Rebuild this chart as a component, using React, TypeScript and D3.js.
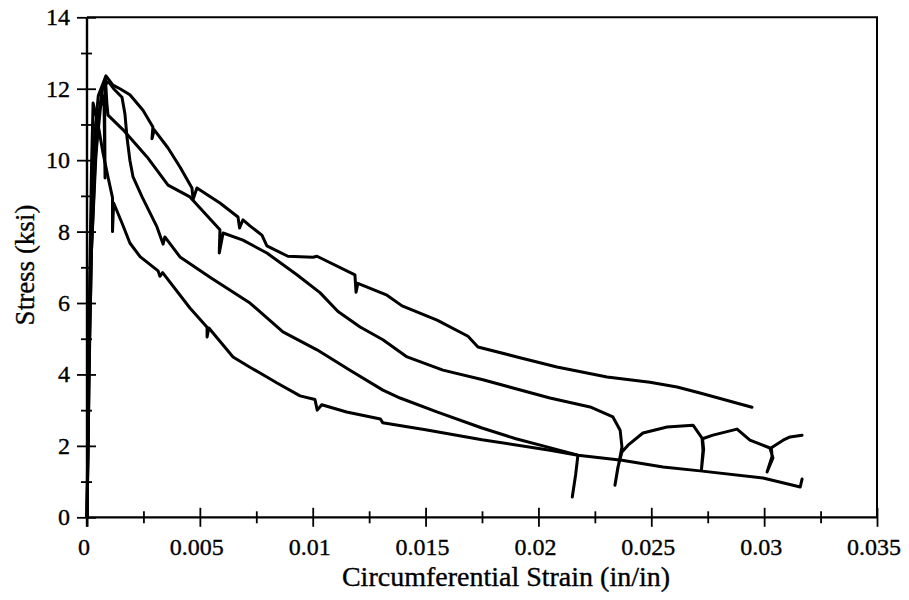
import React, { useEffect, useRef } from 'react';
import * as d3 from 'd3';

type Pt = [number, number];

// strain (in/in), stress (ksi)
const curveA: Pt[] = [
  [0, 0], [0.00004, 2.5], [0.0001, 5.5], [0.0002, 8.5], [0.00035, 10.8], [0.0005, 11.8], [0.00084, 12.36],
  [0.00115, 12.1], [0.00146, 12.0], [0.0019, 11.83], [0.00248, 11.4], [0.00292, 10.93], [0.00288, 10.6],
  [0.00298, 10.85], [0.00359, 10.34], [0.00412, 9.81], [0.00465, 9.22], [0.0047, 8.9], [0.00487, 9.22],
  [0.00589, 8.8], [0.00669, 8.41], [0.00676, 8.1], [0.00691, 8.33], [0.00722, 8.16], [0.00775, 7.9],
  [0.00797, 7.6], [0.0089, 7.31], [0.01001, 7.28], [0.01019, 7.31], [0.01187, 6.79], [0.01192, 6.3],
  [0.012, 6.55], [0.01329, 6.22], [0.01396, 5.92], [0.01551, 5.52], [0.01688, 5.07], [0.01732, 4.77],
  [0.01905, 4.49], [0.02082, 4.21], [0.02304, 3.93], [0.02494, 3.78], [0.02614, 3.65], [0.02716, 3.48],
  [0.02946, 3.08],
];

const curveB: Pt[] = [
  [0, 0], [0.00005, 2], [0.0001, 4.5], [0.0002, 7.5], [0.0004, 10.2], [0.0006, 11.5], [0.00075, 11.8],
  [0.0008, 9.5], [0.00078, 11.6], [0.00082, 12.25], [0.00088, 11.6], [0.00093, 11.26], [0.0016, 10.85],
  [0.00266, 10.09], [0.00359, 9.3], [0.00456, 8.97], [0.00589, 8.05], [0.00586, 7.4], [0.00603, 7.96],
  [0.00691, 7.76], [0.00797, 7.4], [0.0093, 6.79], [0.01032, 6.29], [0.01112, 5.76], [0.0121, 5.33],
  [0.01311, 4.97], [0.01418, 4.49], [0.01577, 4.12], [0.01754, 3.85], [0.02051, 3.34], [0.02229, 3.09],
  [0.0233, 2.81], [0.02362, 2.44], [0.0237, 1.97], [0.02353, 1.41], [0.02339, 0.9], [0.02352, 1.4],
  [0.0237, 1.83], [0.02397, 2.02], [0.02463, 2.36], [0.0257, 2.53], [0.02685, 2.58], [0.02725, 2.22],
  [0.02729, 1.88], [0.02722, 1.32], [0.02732, 1.9], [0.02727, 2.2], [0.02773, 2.3], [0.0288, 2.47],
  [0.02937, 2.16], [0.03026, 1.94], [0.03039, 1.66], [0.03013, 1.27], [0.03035, 1.7], [0.03032, 1.95],
  [0.03084, 2.16], [0.03115, 2.25], [0.03168, 2.3],
];

const curveC: Pt[] = [
  [0, 0], [0.00006, 2.5], [0.00012, 5], [0.0002, 7.5], [0.00035, 9.8], [0.0005, 11.2], [0.0007, 12.05],
  [0.00095, 12.2], [0.00118, 12.0], [0.00155, 11.76], [0.00168, 11.3], [0.00177, 10.65], [0.0019, 10.0],
  [0.00204, 9.53], [0.00244, 8.97], [0.0031, 8.13], [0.00337, 7.65], [0.00345, 7.85], [0.00412, 7.29],
  [0.0055, 6.7], [0.00722, 6.0], [0.00868, 5.19], [0.01019, 4.69], [0.01165, 4.12], [0.01311, 3.56],
  [0.01387, 3.34], [0.0155, 2.95], [0.0175, 2.5], [0.019, 2.2], [0.0205, 1.95], [0.02175, 1.74],
  [0.02165, 1.2], [0.0215, 0.57],
];

const curveD: Pt[] = [
  [0, 0], [0.00004, 2], [0.00008, 4.5], [0.00013, 7], [0.0002, 9.8], [0.00027, 11.6], [0.00049, 11.0],
  [0.00071, 10.2], [0.00093, 9.53], [0.00113, 8.95], [0.00113, 8.0], [0.00118, 8.8], [0.00155, 8.24],
  [0.0019, 7.68], [0.00235, 7.3], [0.00315, 6.9], [0.00323, 6.75], [0.00335, 6.85], [0.00456, 5.86],
  [0.00532, 5.32], [0.00532, 5.05], [0.0054, 5.3], [0.00647, 4.49], [0.00722, 4.2], [0.00797, 3.93],
  [0.00842, 3.76], [0.00944, 3.4], [0.0101, 3.3], [0.0102, 3.0], [0.0104, 3.15], [0.0115, 2.95],
  [0.013, 2.75], [0.0131, 2.65], [0.015, 2.45], [0.0175, 2.17], [0.02051, 1.88], [0.02175, 1.74],
  [0.0237, 1.6], [0.02552, 1.41], [0.02716, 1.3], [0.02995, 1.1], [0.0316, 0.85], [0.03168, 1.07],
];

const curves = [curveA, curveB, curveC, curveD];

const xMajorTicks = [0, 0.005, 0.01, 0.015, 0.02, 0.025, 0.03, 0.035];
const xTickLabels = ['0', '0.005', '0.01', '0.015', '0.02', '0.025', '0.03', '0.035'];
const xMinorTicks = [0.0025, 0.0075, 0.0125, 0.0175, 0.0225, 0.0275, 0.0325];
const yMajorTicks = [0, 2, 4, 6, 8, 10, 12, 14];
const yMinorTicks = [1, 3, 5, 7, 9, 11, 13];

const xTitle = 'Circumferential Strain (in/in)';
const yTitle = 'Stress (ksi)';

const W = 909;
const H = 600;
const FONT = 'Liberation Serif';

const x = d3.scaleLinear().domain([0, 0.035]).range([87, 877]);
const y = d3.scaleLinear().domain([0, 14]).range([517.3, 17.3]);

const StressStrainChart: React.FC = () => {
  const axesRef = useRef<SVGGElement>(null);

  useEffect(() => {
    if (!axesRef.current) return;
    const g = d3.select(axesRef.current);
    g.selectAll('*').remove();

    // x axis
    const xAxis = g.append('g').attr('transform', `translate(0,${y(0)})`);
    xAxis.call(
      d3
        .axisBottom(x)
        .tickValues(xMajorTicks)
        .tickSizeOuter(0)
        .tickSize(9.5)
        .tickFormat(() => '')
    );
    xAxis.select('.domain').attr('stroke-width', 2.2).attr('d', `M${x(0)},0H${x(0.035)}`);
    xAxis.selectAll('.tick line').attr('y1', -9.5).attr('y2', 9.5).attr('stroke-width', 1.8);

    const xMinor = g.append('g').attr('transform', `translate(0,${y(0)})`);
    xMinor.call(d3.axisBottom(x).tickValues(xMinorTicks).tickSize(6).tickFormat(() => ''));
    xMinor.select('.domain').remove();
    xMinor.selectAll('.tick line').attr('y1', -6).attr('y2', 6).attr('stroke-width', 1.8);

    // y axis
    const yAxis = g.append('g').attr('transform', `translate(${x(0)},0)`);
    yAxis.call(
      d3
        .axisLeft(y)
        .tickValues(yMajorTicks)
        .tickSizeOuter(0)
        .tickSize(10)
        .tickFormat(() => '')
    );
    yAxis.select('.domain').attr('stroke-width', 2.4).attr('d', `M0,${y(14)}V${y(0) + 9.5}`);
    yAxis.selectAll('.tick line').attr('x1', -10).attr('x2', 9).attr('stroke-width', 1.8);

    const yMinor = g.append('g').attr('transform', `translate(${x(0)},0)`);
    yMinor.call(d3.axisLeft(y).tickValues(yMinorTicks).tickSize(6).tickFormat(() => ''));
    yMinor.select('.domain').remove();
    yMinor.selectAll('.tick line').attr('x1', -6).attr('x2', 5).attr('stroke-width', 1.8);
  }, []);

  const line = d3
    .line<Pt>()
    .x((d) => x(d[0]))
    .y((d) => y(d[1]));

  return (
    <svg width={W} height={H} style={{ display: 'block', background: '#fff' }}>
      <path
        d={`M${x(0)},${y(14)}H${x(0.035)}V${y(0)}`}
        fill="none"
        stroke="#000"
        strokeWidth={2}
      />
      <g>
        {curves.map((c, i) => (
          <path
            key={i}
            d={line(c) ?? ''}
            fill="none"
            stroke="#000"
            strokeWidth={3}
            strokeLinejoin="round"
            strokeLinecap="round"
          />
        ))}
      </g>
      <g ref={axesRef} />
      <g fontFamily={FONT} fontSize={24} fill="#000" stroke="#000" strokeWidth={0.35}>
        {xMajorTicks.map((t, i) => (
          <text key={t} x={x(t) - 3} y={y(0) + 38} textAnchor="middle">
            {xTickLabels[i]}
          </text>
        ))}
        {yMajorTicks.map((t) => (
          <text key={t} x={x(0) - 17} y={y(t)} dy="0.33em" textAnchor="end">
            {String(t)}
          </text>
        ))}
      </g>
      <text
        x={506}
        y={586}
        textAnchor="middle"
        fontFamily={FONT}
        fontSize={28}
        stroke="#000"
        strokeWidth={0.35}
      >
        {xTitle}
      </text>
      <text
        transform="translate(34,265) rotate(-90)"
        textAnchor="middle"
        fontFamily={FONT}
        fontSize={27}
        stroke="#000"
        strokeWidth={0.35}
      >
        {yTitle}
      </text>
    </svg>
  );
};

const App: React.FC = () => {
  useEffect(() => {
    document.body.style.margin = '0';
  }, []);
  return (
    <div style={{ position: 'absolute', left: 0, top: 0, width: W, height: H }}>
      <StressStrainChart />
    </div>
  );
};

export default App;
